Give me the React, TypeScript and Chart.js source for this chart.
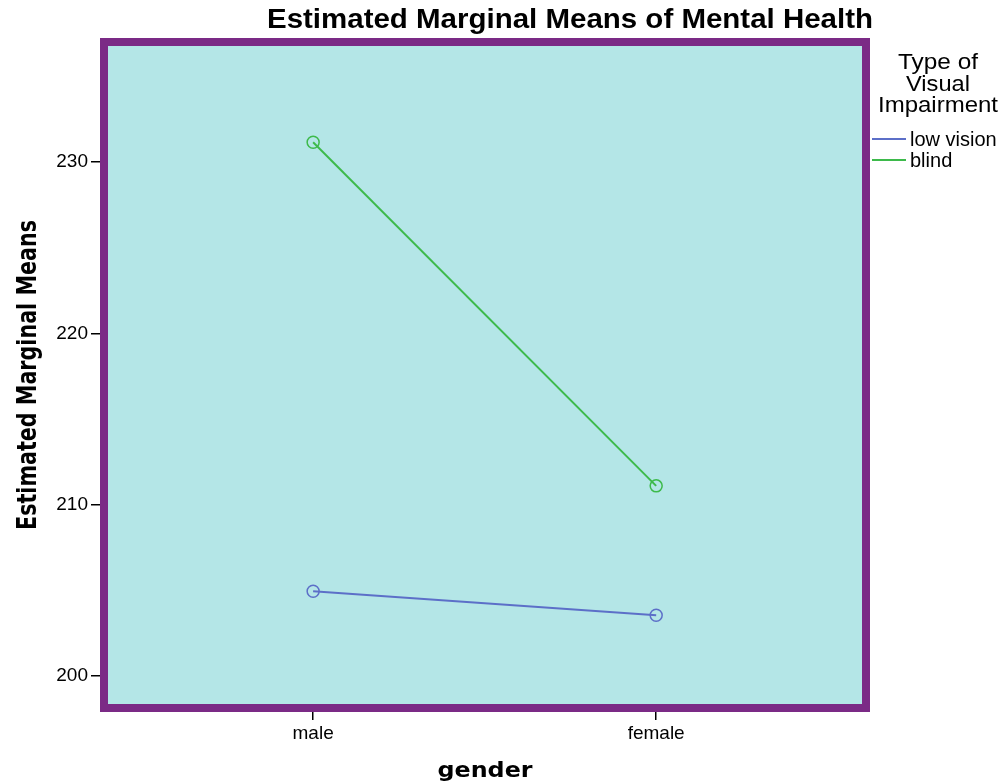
import React, { useEffect, useRef } from "react";
import { Chart, registerables } from "chart.js";

Chart.register(...registerables);

const categories = ["male", "female"];
const seriesLabels = ["low vision", "blind"];
const lowVision = [204.95, 203.55];
const blind = [231.15, 211.1];
const yTicks = [200, 210, 220, 230];
const chartTitle = "Estimated Marginal Means of Mental Health";
const yTitle = "Estimated Marginal Means";
const xTitle = "gender";
const legendTitle = ["Type of", "Visual", "Impairment"];

const BLUE = "#5c6fc8";
const GREEN = "#3dba4b";
const PURPLE = "#7b2a86";
const BG = "#b4e6e7";

function drawFitted(
  ctx: CanvasRenderingContext2D,
  text: string,
  x: number,
  y: number,
  font: string,
  targetWidth: number,
  rotate = 0
) {
  ctx.save();
  ctx.font = font;
  ctx.textAlign = "center";
  ctx.textBaseline = "middle";
  ctx.fillStyle = "#000";
  const w = ctx.measureText(text).width;
  ctx.translate(x, y);
  if (rotate) ctx.rotate(rotate);
  ctx.scale(targetWidth / w, 1);
  ctx.fillText(text, 0, 0);
  ctx.restore();
}

const decor = {
  id: "decor",
  beforeDraw(chart: any) {
    const { ctx, chartArea: a } = chart;
    ctx.save();
    ctx.fillStyle = "#fff";
    ctx.fillRect(0, 0, chart.width, chart.height);
    ctx.fillStyle = BG;
    ctx.fillRect(a.left, a.top, a.right - a.left, a.bottom - a.top);
    ctx.restore();
  },
  afterDraw(chart: any) {
    const { ctx, chartArea: a } = chart;
    ctx.save();
    ctx.strokeStyle = PURPLE;
    ctx.lineWidth = 8;
    ctx.strokeRect(a.left - 4, a.top - 4, a.right - a.left + 8, a.bottom - a.top + 8);
    ctx.restore();

    drawFitted(ctx, chartTitle, 570, 21, "bold 27px 'Liberation Sans', Arial, sans-serif", 606);
    drawFitted(ctx, yTitle, 29, 375, "bold 26px 'DejaVu Sans', sans-serif", 310, -Math.PI / 2);
    drawFitted(ctx, xTitle, 485, 771, "bold 22px 'DejaVu Sans', sans-serif", 95);

    const ltWidths = [80, 64, 120];
    const ltY = [63, 85, 106];
    legendTitle.forEach((t, i) =>
      drawFitted(ctx, t, 938, ltY[i], "22px 'Liberation Sans', Arial, sans-serif", ltWidths[i])
    );

    const items = chart.data.datasets;
    const itemY = [139, 160];
    ctx.save();
    items.forEach((ds: any, i: number) => {
      ctx.strokeStyle = ds.borderColor;
      ctx.lineWidth = 2;
      ctx.beginPath();
      ctx.moveTo(872, itemY[i]);
      ctx.lineTo(906, itemY[i]);
      ctx.stroke();
      ctx.fillStyle = "#000";
      ctx.font = "20px 'Liberation Sans', Arial, sans-serif";
      ctx.textAlign = "left";
      ctx.textBaseline = "middle";
      ctx.fillText(ds.label, 910, itemY[i] + 1);
    });
    ctx.restore();
  },
};

export default function App() {
  const ref = useRef<HTMLCanvasElement>(null);
  useEffect(() => {
    const mk = (vals: number[]) => vals.map((v, i) => ({ x: i, y: v }));
    const chart = new Chart(ref.current!, {
      type: "line",
      data: {
        datasets: [
          {
            label: seriesLabels[0],
            data: mk(lowVision),
            borderColor: BLUE,
            backgroundColor: "transparent",
            borderWidth: 2,
            pointRadius: 6,
            pointBorderWidth: 1.5,
            pointBackgroundColor: "transparent",
            pointBorderColor: BLUE,
          },
          {
            label: seriesLabels[1],
            data: mk(blind),
            borderColor: GREEN,
            backgroundColor: "transparent",
            borderWidth: 2,
            pointRadius: 6,
            pointBorderWidth: 1.5,
            pointBackgroundColor: "transparent",
            pointBorderColor: GREEN,
          },
        ],
      },
      options: {
        responsive: false,
        animation: false,
        layout: { padding: { top: 46, right: 144, left: 0, bottom: 0 } },
        plugins: { legend: { display: false }, title: { display: false }, tooltip: { enabled: false } },
        scales: {
          x: {
            type: "linear",
            min: -0.598,
            max: 1.6,
            afterFit: (s: any) => {
              s.height = 78;
            },
            afterBuildTicks: (s: any) => {
              s.ticks = categories.map((_, i) => ({ value: i }));
            },
            ticks: {
              callback: (v: any) => categories[v] ?? "",
              color: "#000",
              font: { family: "'Liberation Sans', Arial, sans-serif", size: 19 },
              padding: 2,
              maxRotation: 0,
            },
            grid: { drawOnChartArea: false, tickLength: 16, color: "#000", lineWidth: 1.5 },
            border: { display: false },
          },
          y: {
            min: 198.37,
            max: 236.77,
            afterFit: (s: any) => {
              s.width = 108;
            },
            afterBuildTicks: (s: any) => {
              s.ticks = yTicks.map((v) => ({ value: v }));
            },
            ticks: {
              color: "#000",
              font: { family: "'Liberation Sans', Arial, sans-serif", size: 19 },
              padding: 3,
            },
            grid: { drawOnChartArea: false, tickLength: 17, color: "#000", lineWidth: 1.5 },
            border: { display: false },
          },
        },
      },
      plugins: [decor],
    } as any);
    return () => chart.destroy();
  }, []);
  return (
    <div style={{ position: "absolute", left: 0, top: 0, width: 1006, height: 782 }}>
      <canvas ref={ref} width={1006} height={782} />
    </div>
  );
}
